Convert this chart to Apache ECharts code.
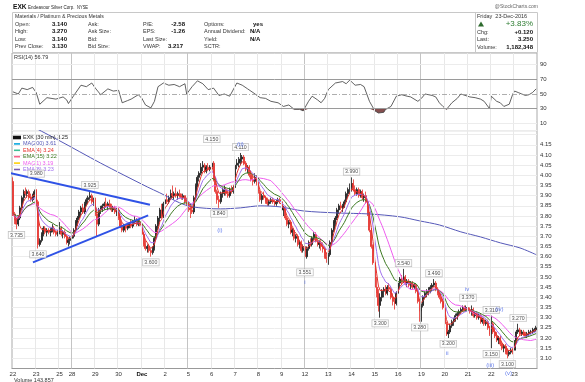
<!DOCTYPE html>
<html><head><meta charset="utf-8">
<script src="https://cdn.jsdelivr.net/npm/echarts@6/dist/echarts.min.js"></script>
<style>html,body{margin:0;padding:0;background:#fff}#c{width:585px;height:382px}</style>
</head><body><div id="c"></div>
<script>
// ---------- DATA ----------
const dayLabels = ['22','23','25','28','29','30','Dec','2','5','6','7','8','9','12','13','14','15','16','19','20','21','22','23'];
const barsPerDay = [13,13,7,13,13,13,13,13,13,13,13,13,13,13,13,13,13,13,13,13,13,13,13];
const mondayDays = [3,8,13,18];

const opens = [
3.97,3.81,3.78,3.76,3.79,3.84,3.89,3.92,3.91,3.92,3.89,3.88,3.90,
3.93,3.87,3.66,3.68,3.71,3.74,3.72,3.73,3.72,3.73,3.74,3.72,3.71,
3.72,3.74,3.71,3.72,3.70,3.67,3.68,
3.69,3.70,3.73,3.77,3.79,3.82,3.84,3.82,3.86,3.88,3.89,3.90,3.87,
3.88,3.81,3.76,3.83,3.84,3.85,3.86,3.85,3.86,3.85,3.83,3.84,3.82,
3.83,3.79,3.75,3.73,3.75,3.74,3.75,3.76,3.75,3.77,3.78,3.76,3.77,
3.76,3.71,3.66,3.64,3.65,3.63,3.62,3.64,3.69,3.75,3.79,3.83,3.80,
3.86,3.88,3.87,3.89,3.91,3.90,3.91,3.90,3.91,3.90,3.89,3.90,3.87,
3.86,3.84,3.83,3.82,3.89,3.95,3.99,4.01,4.04,4.05,4.02,4.04,4.03,
4.04,4.06,3.98,3.92,3.88,3.87,3.91,3.92,3.93,3.91,3.90,3.93,3.92,
3.94,4.05,4.06,4.07,4.08,4.09,4.06,4.03,4.04,4.00,3.98,3.97,3.99,
3.96,3.92,3.88,3.90,3.89,3.87,3.86,3.87,3.88,3.87,3.86,3.87,3.88,
3.87,3.83,3.84,3.79,3.76,3.77,3.72,3.73,3.69,3.70,3.66,3.67,3.63,
3.65,3.60,3.64,3.67,3.66,3.69,3.71,3.68,3.66,3.67,3.65,3.64,3.60,
3.59,3.61,3.67,3.73,3.77,3.79,3.83,3.85,3.84,3.85,3.87,3.91,3.93,
3.94,3.96,3.93,3.91,3.93,3.90,3.92,3.89,3.90,3.87,3.81,3.73,3.65,
3.57,3.45,3.42,3.36,3.40,3.43,3.44,3.42,3.45,3.44,3.40,3.38,3.37,
3.42,3.47,3.49,3.48,3.50,3.47,3.48,3.46,3.47,3.45,3.46,3.43,3.38,
3.33,3.36,3.40,3.42,3.43,3.44,3.45,3.46,3.47,3.44,3.42,3.40,3.38,
3.35,3.27,3.22,3.23,3.26,3.28,3.29,3.31,3.32,3.33,3.34,3.35,3.34,
3.35,3.34,3.33,3.34,3.31,3.32,3.30,3.31,3.28,3.29,3.27,3.28,3.25,
3.22,3.27,3.23,3.21,3.19,3.20,3.17,3.15,3.16,3.13,3.12,3.13,3.14,
3.14,3.18,3.23,3.24,3.22,3.23,3.22,3.21,3.22,3.23,3.23,3.24,3.24];
const highs = [
3.99,3.82,3.79,3.80,3.85,3.90,3.93,3.94,3.93,3.93,3.91,3.91,3.93,
3.98,3.88,3.69,3.72,3.75,3.75,3.74,3.74,3.74,3.76,3.75,3.73,3.73,
3.77,3.75,3.73,3.73,3.71,3.69,3.70,
3.71,3.74,3.78,3.80,3.83,3.85,3.86,3.87,3.89,3.90,3.925,3.91,3.89,
3.89,3.82,3.84,3.85,3.86,3.87,3.89,3.87,3.88,3.86,3.85,3.85,3.84,
3.84,3.80,3.77,3.76,3.76,3.76,3.77,3.78,3.78,3.80,3.79,3.78,3.79,
3.77,3.72,3.68,3.66,3.66,3.64,3.65,3.70,3.76,3.80,3.84,3.86,3.87,
3.90,3.91,3.90,3.93,3.95,3.92,3.94,3.92,3.93,3.91,3.91,3.90,3.89,
3.87,3.86,3.85,3.90,3.96,4.00,4.02,4.06,4.07,4.06,4.05,4.06,4.05,
4.15,4.07,3.99,3.93,3.90,3.92,3.94,3.95,3.94,3.93,3.94,3.95,3.95,
4.06,4.08,4.09,4.11,4.10,4.10,4.07,4.05,4.05,4.02,4.00,4.01,4.00,
3.97,3.93,3.91,3.92,3.90,3.89,3.88,3.89,3.89,3.88,3.88,3.89,3.89,
3.88,3.85,3.85,3.80,3.78,3.78,3.74,3.74,3.71,3.71,3.68,3.68,3.66,
3.66,3.65,3.68,3.69,3.70,3.72,3.72,3.69,3.68,3.68,3.67,3.65,3.62,
3.62,3.68,3.74,3.78,3.80,3.84,3.86,3.87,3.86,3.88,3.92,3.94,3.96,
3.99,3.98,3.95,3.94,3.94,3.93,3.93,3.91,3.92,3.88,3.82,3.74,3.66,
3.58,3.50,3.44,3.42,3.44,3.45,3.46,3.46,3.47,3.45,3.42,3.40,3.43,
3.48,3.50,3.51,3.54,3.51,3.49,3.49,3.48,3.48,3.47,3.47,3.44,3.39,
3.37,3.41,3.43,3.44,3.45,3.46,3.47,3.49,3.48,3.45,3.43,3.42,3.39,
3.36,3.28,3.24,3.27,3.29,3.30,3.32,3.33,3.34,3.35,3.36,3.36,3.36,
3.37,3.35,3.36,3.35,3.33,3.33,3.32,3.32,3.30,3.30,3.29,3.29,3.26,
3.31,3.28,3.25,3.23,3.21,3.21,3.18,3.17,3.17,3.15,3.14,3.15,3.15,
3.19,3.24,3.27,3.25,3.24,3.24,3.23,3.23,3.24,3.24,3.25,3.25,3.26];
const lows = [
3.80,3.76,3.735,3.75,3.78,3.83,3.87,3.90,3.89,3.88,3.87,3.87,3.89,
3.85,3.64,3.65,3.67,3.70,3.71,3.70,3.71,3.70,3.72,3.71,3.70,3.70,
3.71,3.70,3.69,3.69,3.66,3.65,3.66,
3.67,3.69,3.72,3.75,3.78,3.80,3.81,3.81,3.85,3.86,3.88,3.86,3.85,
3.80,3.70,3.75,3.81,3.82,3.83,3.84,3.83,3.84,3.82,3.82,3.81,3.80,
3.78,3.74,3.72,3.72,3.72,3.73,3.74,3.74,3.74,3.76,3.75,3.75,3.75,
3.70,3.65,3.63,3.62,3.62,3.60,3.61,3.63,3.68,3.73,3.77,3.79,3.79,
3.85,3.86,3.86,3.88,3.89,3.88,3.89,3.88,3.89,3.88,3.88,3.86,3.85,
3.82,3.79,3.81,3.81,3.88,3.94,3.97,4.00,4.02,4.01,4.01,4.02,4.02,
4.03,3.97,3.91,3.86,3.84,3.86,3.89,3.90,3.90,3.89,3.89,3.91,3.91,
3.93,4.03,4.04,4.05,4.06,4.05,4.02,4.01,3.99,3.97,3.95,3.96,3.95,
3.91,3.87,3.86,3.88,3.86,3.85,3.85,3.86,3.86,3.85,3.85,3.86,3.86,
3.82,3.80,3.78,3.75,3.74,3.71,3.70,3.68,3.67,3.65,3.64,3.62,3.62,
3.551,3.59,3.63,3.65,3.65,3.68,3.67,3.65,3.64,3.63,3.62,3.59,3.57,
3.56,3.60,3.66,3.72,3.75,3.78,3.81,3.83,3.82,3.84,3.86,3.89,3.91,
3.92,3.92,3.90,3.90,3.89,3.89,3.88,3.87,3.86,3.80,3.72,3.64,3.56,
3.43,3.40,3.33,3.30,3.38,3.40,3.41,3.41,3.43,3.39,3.36,3.34,3.36,
3.41,3.45,3.46,3.47,3.46,3.45,3.45,3.44,3.44,3.44,3.42,3.37,3.28,
3.28,3.35,3.39,3.40,3.41,3.42,3.43,3.45,3.43,3.41,3.39,3.37,3.34,
3.26,3.21,3.20,3.22,3.25,3.26,3.28,3.29,3.31,3.32,3.33,3.33,3.33,
3.33,3.32,3.31,3.30,3.30,3.29,3.29,3.27,3.27,3.26,3.26,3.24,3.21,
3.15,3.22,3.20,3.18,3.17,3.16,3.14,3.13,3.12,3.10,3.11,3.12,3.12,
3.14,3.17,3.22,3.21,3.21,3.21,3.20,3.20,3.21,3.22,3.22,3.23,3.23];
const closes = [
3.81,3.78,3.76,3.79,3.84,3.89,3.92,3.91,3.92,3.89,3.88,3.90,3.92,
3.87,3.66,3.68,3.71,3.74,3.72,3.73,3.72,3.73,3.74,3.72,3.71,3.72,
3.74,3.71,3.72,3.70,3.67,3.68,3.69,
3.70,3.73,3.77,3.79,3.82,3.84,3.82,3.86,3.88,3.89,3.90,3.87,3.88,
3.81,3.76,3.83,3.84,3.85,3.86,3.85,3.86,3.85,3.83,3.84,3.82,3.83,
3.79,3.75,3.73,3.75,3.74,3.75,3.76,3.75,3.77,3.78,3.76,3.77,3.76,
3.71,3.66,3.64,3.65,3.63,3.62,3.64,3.69,3.75,3.79,3.83,3.80,3.86,
3.88,3.87,3.89,3.91,3.90,3.91,3.90,3.91,3.90,3.89,3.90,3.87,3.86,
3.84,3.83,3.82,3.89,3.95,3.99,4.01,4.04,4.05,4.02,4.04,4.03,4.04,
4.06,3.98,3.92,3.88,3.87,3.91,3.92,3.93,3.91,3.90,3.93,3.92,3.94,
4.05,4.06,4.07,4.08,4.09,4.06,4.03,4.04,4.00,3.98,3.97,3.99,3.96,
3.92,3.88,3.90,3.89,3.87,3.86,3.87,3.88,3.87,3.86,3.87,3.88,3.87,
3.83,3.84,3.79,3.76,3.77,3.72,3.73,3.69,3.70,3.66,3.67,3.63,3.65,
3.60,3.64,3.67,3.66,3.69,3.71,3.68,3.66,3.67,3.65,3.64,3.60,3.59,
3.61,3.67,3.73,3.77,3.79,3.83,3.85,3.84,3.85,3.87,3.91,3.93,3.94,
3.96,3.93,3.91,3.93,3.90,3.92,3.89,3.90,3.87,3.81,3.73,3.65,3.57,
3.45,3.42,3.36,3.40,3.43,3.44,3.42,3.45,3.44,3.40,3.38,3.37,3.42,
3.47,3.49,3.48,3.50,3.47,3.48,3.46,3.47,3.45,3.46,3.43,3.38,3.33,
3.36,3.40,3.42,3.43,3.44,3.45,3.46,3.47,3.44,3.42,3.40,3.38,3.35,
3.27,3.22,3.23,3.26,3.28,3.29,3.31,3.32,3.33,3.34,3.35,3.34,3.35,
3.34,3.33,3.34,3.31,3.32,3.30,3.31,3.28,3.29,3.27,3.28,3.25,3.22,
3.27,3.23,3.21,3.19,3.20,3.17,3.15,3.16,3.13,3.12,3.13,3.14,3.13,
3.18,3.23,3.24,3.22,3.23,3.22,3.21,3.22,3.23,3.23,3.24,3.24,3.25];

// RSI(14) at selected bars
const rsiBars = [0,3,5,8,11,12,13,15,19,24,28,30,31,34,38,41,44,46,49,53,56,59,61,64,66,70,72,74,77,79,81,84,87,90,93,96,97,100,103,106,109,112,115,118,121,125,128,131,134,138,141,144,148,151,154,157,160,162,165,167,170,172,174,176,180,184,186,188,191,194,196,199,202,204,205,207,208,211,214,217,220,222,226,228,230,234,236,238,240,242,245,248,250,255,258,261,263,266,267,270,272,274,277,279,280,282,284,286,288,290,292];
const rsiVals = [53,50,58,56,59,57,52,36,45,43,46,42,37,48,62,60,65,58,49,57,54,55,38,41,43,49,44,35,31,40,60,65,62,63,60,64,50,60,68,64,56,58,48,50,47,65,62,57,52,45,44,40,38,33,35,29,29,27,40,47,42,38,44,56,65,67,64,69,62,63,60,40,27,24,22,25,29,33,47,49,47,46,40,44,50,48,46,38,33,29,38,44,50,46,45,43,40,30,47,40,38,33,36,50,54,52,50,48,49,52,57];

// MA(200) at selected bars
const ma200Bars = [0,25,49,75,82,93,100,116,127,138,149,162,181,199,216,227,238,250,261,272,283,292];
const ma200Vals = [4.29,4.175,4.06,3.943,3.914,3.865,3.845,3.835,3.84,3.85,3.845,3.825,3.815,3.81,3.796,3.776,3.756,3.722,3.697,3.668,3.643,3.61];

// Hand-drawn trend lines (bar position, price)
const trendUpper = [[-5.7,4.02],[76.5,3.855]];
const trendLower = [[11.2,3.572],[75.5,3.803]];

// Price annotations: bar, price, text, side
const priceNotes = [
 [2,3.735,'3.735','below'],[13,3.98,'3.980','above'],[14,3.64,'3.640','below'],
 [43,3.925,'3.925','above'],[77,3.60,'3.600','below'],[111,4.15,'4.150','above'],
 [127,4.11,'4.110','above'],[115,3.84,'3.840','below'],[163,3.551,'3.551','below'],
 [189,3.99,'3.990','above'],[205,3.30,'3.300','below'],[218,3.54,'3.540','above'],
 [227,3.28,'3.280','below'],[235,3.49,'3.490','above'],[243,3.20,'3.200','below'],
 [254,3.37,'3.370','above'],[267,3.31,'3.310','above'],[267,3.15,'3.150','below'],
 [276,3.10,'3.100','below'],[282,3.27,'3.270','above']];
// Elliott wave labels: bar, price, text
const waveNotes = [[127,4.11,'(ii)'],[115,3.84,'(i)'],[163,3.551,'i'],[254,3.37,'iv'],
 [243,3.20,'ii'],[267,3.31,'(iv)'],[267,3.15,'(iii)'],[276,3.10,'(v)']];
const waveOffsets = [[0,-9],[1,22],[0,16],[-1,-14],[-1,15],[8,-6],[-1,17],[1,15]];

// ---------- BUILD ----------
const cats = [], dayStart = [];
dayLabels.forEach((d,j)=>{dayStart.push(cats.length); for(let b=0;b<barsPerDay[j];b++) cats.push(j+'_'+b);});
const startSet = new Set(dayStart);
const N = cats.length;
const ohlc = opens.map((o,i)=>[o, closes[i], lows[i], highs[i]]);

function ema(n){const k=2/(n+1);let e=closes[0];return closes.map((c,i)=>{if(i>0)e=c*k+e*(1-k);return +e.toFixed(4);});}
function sma(n){return closes.map((c,i)=>{const s=Math.max(0,i-n+1);let t=0;for(let j=s;j<=i;j++)t+=closes[j];return +(t/(i-s+1)).toFixed(4);});}
const ema4=ema(4), ema8=ema(8), ema15=ema(15), ma21=sma(21);
const rsiPts = rsiBars.map((b,k)=>[b,rsiVals[k]]);
const rsiLowPts = rsiBars.map((b,k)=>[b,Math.min(rsiVals[k],30)]);

const FONT = "'Liberation Sans', Arial, sans-serif";
const C = {ma200:'#5558b8', ema4:'#e5302a', ema15:'#3d7a22', ma21:'#ee5cee', ema8:'#a070ee'};

function T(x,y,t,o){o=o||{};return {type:'text',x:x,y:y,silent:true,z:50,scaleX:o.sx||1,style:{text:t,fill:o.color||'#333',
 font:(o.bold?'bold ':'')+(o.size||6)+'px '+FONT,align:o.align||'left',verticalAlign:'middle',
 textAlign:o.align||'left',textVerticalAlign:'middle'}};}

const graphic = [
 T(13,7,'EXK',{bold:true,size:7.5,color:'#111',sx:0.88}),
 T(28,7.5,'Endeavour Silver Corp.',{size:5.5,color:'#222',sx:0.82}),
 T(77,7.5,'NYSE',{size:4.5,color:'#222',sx:0.9}),
 T(538,7,'@StockCharts.com',{size:5,color:'#666',align:'right'}),
 {type:'rect',shape:{x:12.5,y:12.5,width:525,height:40},style:{fill:'none',stroke:'#c8c8c8',lineWidth:1},silent:true},
 {type:'line',shape:{x1:475.5,y1:12.5,x2:475.5,y2:52.5},style:{stroke:'#c8c8c8',lineWidth:1},silent:true},
 T(15,16.5,'Materials / Platinum & Precious Metals',{size:5.2,color:'#333'}),
];
const rowsY=[24,31.5,39,46.5];
const col1=['Open:','High:','Low:','Prev Close:'], val1=['3.140','3.270','3.140','3.130'];
const col2=['Ask:','Ask Size:','Bid:','Bid Size:'];
const col3=['P/E:','EPS:','Last Size:','VWAP:'], val3=['-2.58','-1.26','','3.217'];
const col4=['Options:','Annual Dividend:','Yield:','SCTR:'], val4=['yes','N/A','N/A',''];
rowsY.forEach((y,r)=>{
 graphic.push(T(15,y,col1[r],{size:5.5}));
 graphic.push(T(67,y,val1[r],{size:6,bold:true,align:'right',color:'#111'}));
 graphic.push(T(88,y,col2[r],{size:5.5}));
 graphic.push(T(143,y,col3[r],{size:5.5}));
 if(val3[r]) graphic.push(T(r===3?183:185,y,val3[r],{size:6,bold:true,align:'right',color:'#111'}));
 graphic.push(T(204,y,col4[r],{size:5.5}));
 if(val4[r]) graphic.push(T(r===0?253:250,y,val4[r],{size:6,bold:true,color:'#111'}));
});
graphic.push(T(477,16,'Friday  23-Dec-2016',{size:5.5}));
graphic.push({type:'polygon',shape:{points:[[478,26.5],[484,26.5],[481,21.5]]},style:{fill:'#2e6b2e'},silent:true});
graphic.push(T(533,24,'+3.83%',{size:8,color:'#2e7d32',align:'right'}));
[['Chg:','+0.120'],['Last:','3.250'],['Volume:','1,182,348']].forEach((p,k)=>{
 const y=[32,39.5,47][k];
 graphic.push(T(477,y,p[0],{size:5.5}));
 graphic.push(T(533,y,p[1],{size:6,bold:true,align:'right',color:'#111'}));
});
graphic.push(T(14,57.5,'RSI(14) 56.79',{size:5.5,color:'#333'}));
graphic.push(T(14,380,'Volume 143,857',{size:5.5,color:'#333'}));

const dayLines = dayStart.slice(1).map((s,k)=>({xAxis:s-0.5,
  lineStyle:{color: mondayDays.includes(k+1)?'#c4c4c4':'#e8e8e8',width:1,type:'solid'}}));

const chart = echarts.init(document.getElementById('c'),null,{renderer:'canvas'});
chart.setOption({
 animation:false,
 textStyle:{fontFamily:FONT},
 graphic: graphic,
 legend:{left:13,top:134.5,padding:0,orient:'vertical',itemGap:0.4,itemWidth:6,itemHeight:1.6,icon:'rect',
   textStyle:{fontSize:5.5,padding:[0,0,0,-2],lineHeight:6},selectedMode:false,
   data:[{name:'EXK (30 min) 3.25',textStyle:{color:'#222'},icon:'rect'},
         {name:'MA(200) 3.61',textStyle:{color:C.ma200}},
         {name:'EMA(4) 3.24',textStyle:{color:C.ema4}},
         {name:'EMA(15) 3.22',textStyle:{color:C.ema15}},
         {name:'MA(21) 3.19',textStyle:{color:C.ma21}},
         {name:'EMA(8) 3.23',textStyle:{color:C.ema8}}]},
 grid:[
  {left:12,right:48,top:53,height:77.6,show:true,borderColor:'#aaa',borderWidth:1},
  {left:12,right:48,top:130.6,height:237.9,show:true,borderColor:'#aaa',borderWidth:1}
 ],
 xAxis:[
  {type:'category',gridIndex:0,data:cats,boundaryGap:true,show:false},
  {type:'category',gridIndex:1,data:cats,boundaryGap:true,axisLine:{lineStyle:{color:'#999'}},axisTick:{show:false},
   splitLine:{show:false},
   axisLabel:{interval:(i)=>startSet.has(i),margin:2.5,fontSize:6,color:'#333',
     formatter:(v,i)=>{const d=dayLabels[dayStart.indexOf(i)];return d==='Dec'?'{b|Dec}':d;},
     rich:{b:{fontWeight:'bold',fontSize:6,color:'#111'}}}},
  {type:'value',gridIndex:1,min:-0.5,max:N-0.5,show:false},
  {type:'value',gridIndex:0,min:-0.5,max:N-0.5,show:false}
 ],
 yAxis:[
  {type:'value',gridIndex:0,min:0,max:106,interval:10,position:'right',axisLine:{show:false},axisTick:{show:false},splitLine:{show:false},
   axisLabel:{margin:3,fontSize:6,color:'#333',formatter:v=>[10,30,50,70,90].includes(Math.round(v))?String(Math.round(v)):''}},
  {type:'value',gridIndex:1,min:3.05,max:4.22,interval:0.05,position:'right',axisLine:{show:false},axisTick:{show:false},
   splitLine:{lineStyle:{color:'#ececec',width:1}},
   axisLabel:{margin:3,fontSize:6,color:'#333',formatter:v=>(v>3.07&&v<4.17)?v.toFixed(2):''}}
 ],
 series:[
  {type:'line',xAxisIndex:2,yAxisIndex:1,data:[[-10,3.0]],showSymbol:false,lineStyle:{opacity:0},z:0,silent:true,
   markLine:{silent:true,symbol:['none','none'],label:{show:false},data:dayLines,animation:false}},
  {type:'line',xAxisIndex:3,yAxisIndex:0,data:[[-10,-10]],showSymbol:false,lineStyle:{opacity:0},z:0,silent:true,
   markLine:{silent:true,symbol:['none','none'],label:{show:false},animation:false,
     data:dayLines.concat([
      {yAxis:10,lineStyle:{color:'#ececec',type:'solid',width:1}},
      {yAxis:90,lineStyle:{color:'#ececec',type:'solid',width:1}},
      {yAxis:30,lineStyle:{color:'#9a9a9a',type:'solid',width:1}},
      {yAxis:70,lineStyle:{color:'#9a9a9a',type:'solid',width:1}},
      {yAxis:50,lineStyle:{color:'#999',type:[5,2,1,2],width:0.8}}])}},
  {name:'RSI fill',type:'line',xAxisIndex:3,yAxisIndex:0,data:rsiLowPts,showSymbol:false,silent:true,
   lineStyle:{opacity:0},areaStyle:{origin:30,color:'#7d4545',opacity:0.95},z:2},
  {name:'RSI',type:'line',xAxisIndex:3,yAxisIndex:0,data:rsiPts,showSymbol:false,silent:true,
   lineStyle:{color:'#3a3a3a',width:0.8},z:3},
  {name:'EXK (30 min) 3.25',type:'candlestick',xAxisIndex:1,yAxisIndex:1,data:ohlc,barWidth:1.5,silent:true,z:2,
   itemStyle:{color:'#555',color0:'#e5302a',borderColor:'#111',borderColor0:'#e5302a',borderWidth:0.8}},
  {name:'MA(200) 3.61',type:'line',xAxisIndex:2,yAxisIndex:1,data:ma200Bars.map((b,k)=>[b,ma200Vals[k]]),
   showSymbol:false,smooth:0.3,silent:true,lineStyle:{color:C.ma200,width:1},z:3},
  {name:'MA(21) 3.19',type:'line',xAxisIndex:1,yAxisIndex:1,data:ma21,showSymbol:false,silent:true,lineStyle:{color:C.ma21,width:1},z:4},
  {name:'EMA(15) 3.22',type:'line',xAxisIndex:1,yAxisIndex:1,data:ema15,showSymbol:false,silent:true,lineStyle:{color:C.ema15,width:1},z:4},
  {name:'EMA(8) 3.23',type:'line',xAxisIndex:1,yAxisIndex:1,data:ema8,showSymbol:false,silent:true,lineStyle:{color:C.ema8,width:1},z:4},
  {name:'EMA(4) 3.24',type:'line',xAxisIndex:1,yAxisIndex:1,data:ema4,showSymbol:false,silent:true,lineStyle:{color:C.ema4,width:1},z:4},
  {name:'trendU',type:'line',xAxisIndex:2,yAxisIndex:1,data:trendUpper,clip:false,showSymbol:false,silent:true,lineStyle:{color:'#2f52e6',width:2},z:6},
  {name:'trendL',type:'line',xAxisIndex:2,yAxisIndex:1,data:trendLower,clip:false,showSymbol:false,silent:true,lineStyle:{color:'#2f52e6',width:2},z:6},
  {name:'notes',type:'scatter',xAxisIndex:1,yAxisIndex:1,symbolSize:0,silent:true,z:8,clip:false,
   data:priceNotes.map(n=>({value:[n[0],n[1]],label:{show:true,position:n[3]==='below'?'bottom':'top',distance:2.5,
     formatter:n[2],fontSize:5.2,color:'#222',backgroundColor:'#fff',borderColor:'#aaa',borderWidth:0.6,padding:[1,1.5,0.5,1.5]}}))},
  {name:'waves',type:'scatter',xAxisIndex:1,yAxisIndex:1,symbolSize:0,silent:true,z:9,clip:false,
   data:waveNotes.map((n,k)=>({value:[n[0],n[1]],label:{show:true,position:'inside',offset:waveOffsets[k],
     formatter:n[2],fontSize:6,color:'#3a5ae8'}}))}
 ]
});
</script></body></html>
